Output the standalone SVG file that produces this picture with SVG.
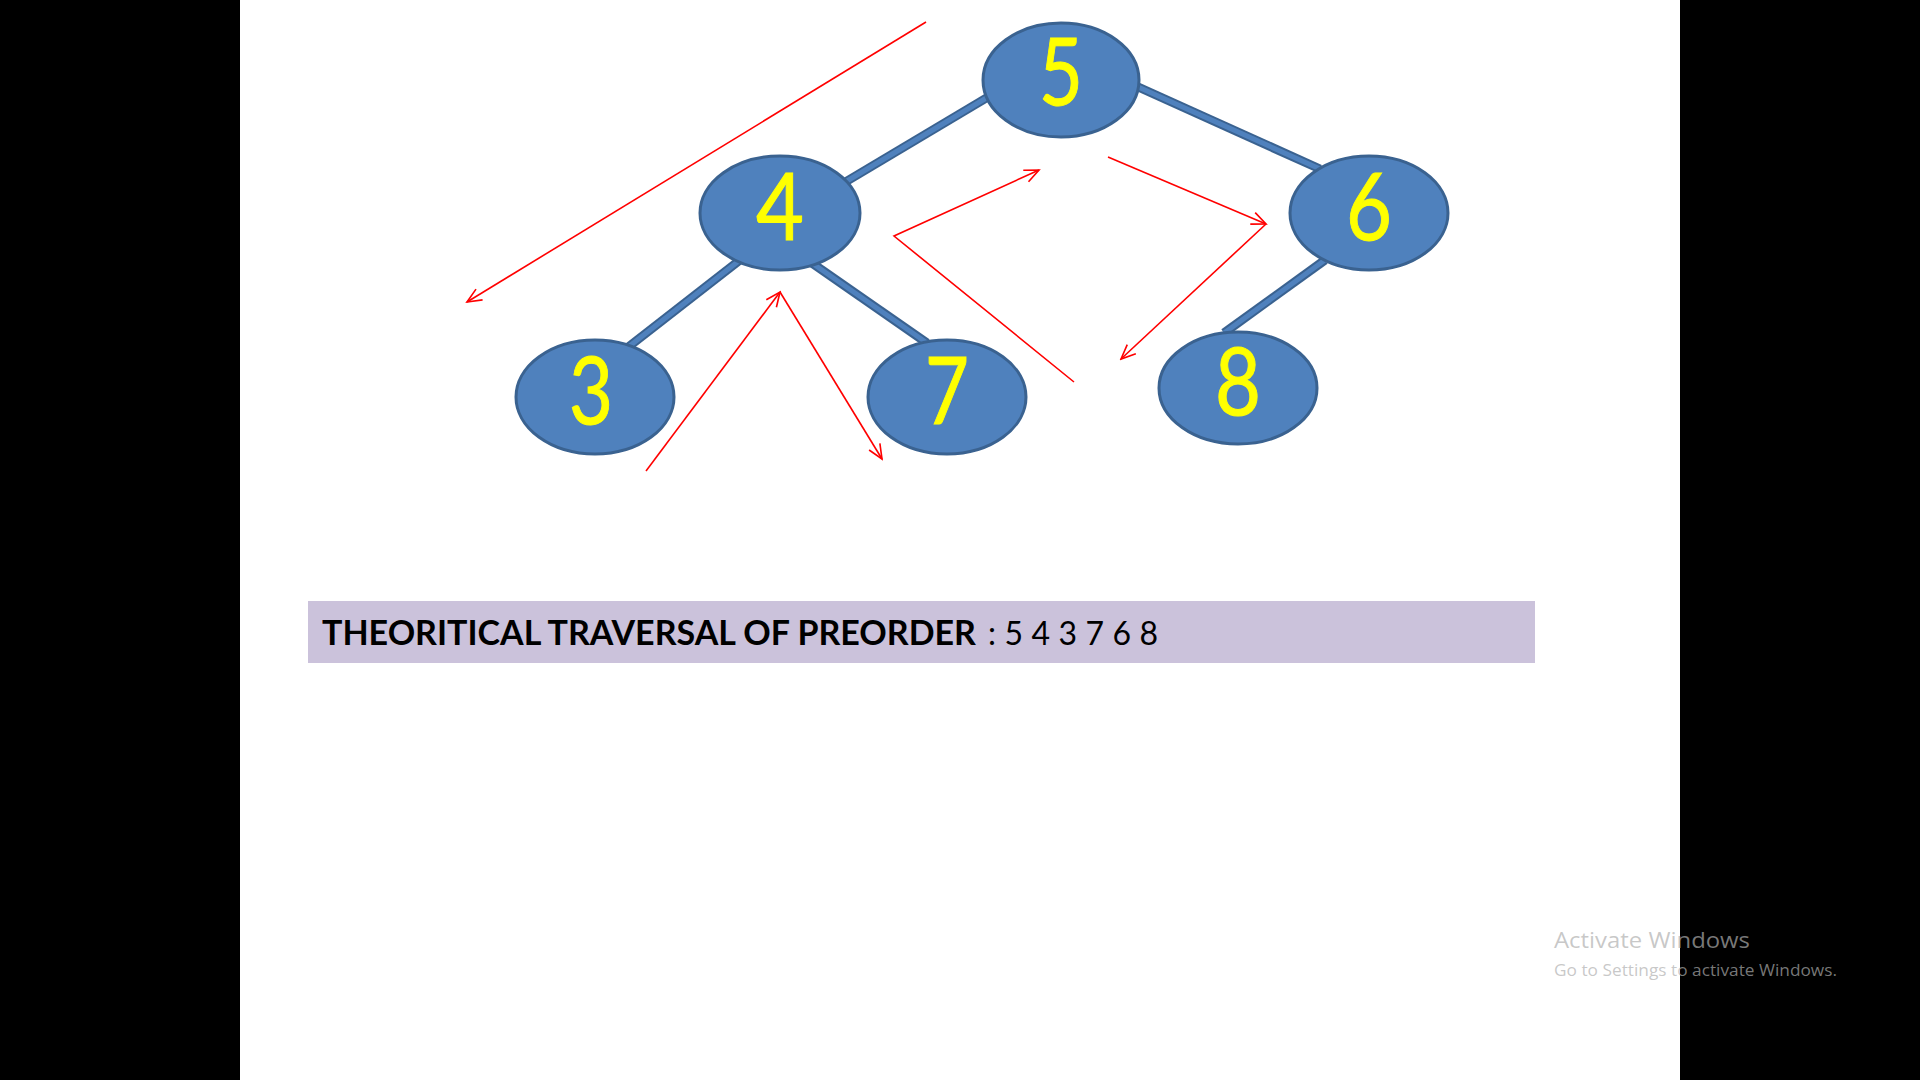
<svg xmlns="http://www.w3.org/2000/svg" width="1920" height="1080" viewBox="0 0 1920 1080">
<defs>
<style>
.node{fill:#4F81BD;stroke:#3A6290;stroke-width:3}
.num{font-family:Lato,"Open Sans",sans-serif;font-size:93px;fill:#FFFF00;stroke:#FFFF00;stroke-width:1;text-anchor:middle}
.eo{stroke:#3A6290;stroke-width:9;stroke-linecap:butt}
.ei{stroke:#4F81BD;stroke-width:5;stroke-linecap:butt}
.red{fill:none;stroke:#FF0000;stroke-width:1.6}
</style>
<marker id="ah" viewBox="0 0 20 20" refX="18" refY="10" markerWidth="18" markerHeight="18" markerUnits="userSpaceOnUse" orient="auto">
<path d="M2,3 L18,10 L2,17" fill="none" stroke="#FF0000" stroke-width="1.8"/>
</marker>
</defs>
<rect x="0" y="0" width="1920" height="1080" fill="#FFFFFF"/>
<rect x="0" y="0" width="240" height="1080" fill="#000000"/>
<rect x="1680" y="0" width="240" height="1080" fill="#000000"/>
<g id="edges">
<line class="eo" x1="988" y1="97" x2="842" y2="184"/><line class="ei" x1="988" y1="97" x2="842" y2="184"/>
<line class="eo" x1="1136" y1="86" x2="1320" y2="169"/><line class="ei" x1="1136" y1="86" x2="1320" y2="169"/>
<line class="eo" x1="740" y1="260" x2="627" y2="348"/><line class="ei" x1="740" y1="260" x2="627" y2="348"/>
<line class="eo" x1="809" y1="261" x2="927" y2="343"/><line class="ei" x1="809" y1="261" x2="927" y2="343"/>
<line class="eo" x1="1325" y1="260" x2="1224" y2="333"/><line class="ei" x1="1325" y1="260" x2="1224" y2="333"/>
</g>
<g id="node-5"><ellipse class="node" cx="1061" cy="80" rx="78" ry="57"/><text class="num" x="1061" y="105" textLength="44" lengthAdjust="spacingAndGlyphs">5</text></g>
<g id="node-4"><ellipse class="node" cx="780" cy="213" rx="80" ry="57"/><text class="num" x="780" y="240" textLength="48" lengthAdjust="spacingAndGlyphs">4</text></g>
<g id="node-6"><ellipse class="node" cx="1369" cy="213" rx="79" ry="57"/><text class="num" x="1369" y="240" textLength="46" lengthAdjust="spacingAndGlyphs">6</text></g>
<g id="node-3"><ellipse class="node" cx="595" cy="397" rx="79" ry="57"/><text class="num" x="591" y="424" textLength="44" lengthAdjust="spacingAndGlyphs">3</text></g>
<g id="node-7"><ellipse class="node" cx="947" cy="397" rx="79" ry="57"/><text class="num" x="947" y="424" textLength="44" lengthAdjust="spacingAndGlyphs">7</text></g>
<g id="node-8"><ellipse class="node" cx="1238" cy="388" rx="79" ry="56"/><text class="num" x="1238" y="415" textLength="46" lengthAdjust="spacingAndGlyphs">8</text></g>
<g id="arrows">
<line class="red" x1="926" y1="22" x2="467" y2="302" marker-end="url(#ah)"/>
<line class="red" x1="646" y1="471" x2="780" y2="292" marker-end="url(#ah)"/>
<line class="red" x1="780" y1="292" x2="882" y2="459" marker-end="url(#ah)"/>
<polyline class="red" points="1074,382 894,236 1039,170" marker-end="url(#ah)"/>
<line class="red" x1="1108" y1="157" x2="1266" y2="224" marker-end="url(#ah)"/>
<line class="red" x1="1266" y1="224" x2="1121" y2="359" marker-end="url(#ah)"/>
</g>
<g id="caption">
<rect x="308" y="601" width="1227" height="62" fill="#CBC2DB"/>
<text x="322" y="645" font-family="Lato,'Open Sans',sans-serif" font-size="34" font-weight="bold" fill="#000000" textLength="654" lengthAdjust="spacingAndGlyphs">THEORITICAL TRAVERSAL OF PREORDER</text>
<text x="988" y="645" font-family="Lato,'Open Sans',sans-serif" font-size="32" fill="#000000" textLength="170" lengthAdjust="spacing">: 5 4 3 7 6 8</text>
</g>
<g id="watermark" fill="#AFAFAF" fill-opacity="0.69" font-family="'Open Sans',sans-serif">
<text x="1554" y="948" font-size="22" textLength="196" lengthAdjust="spacingAndGlyphs">Activate Windows</text>
<text x="1554" y="976" font-size="17" textLength="283" lengthAdjust="spacingAndGlyphs">Go to Settings to activate Windows.</text>
</g>
</svg>
